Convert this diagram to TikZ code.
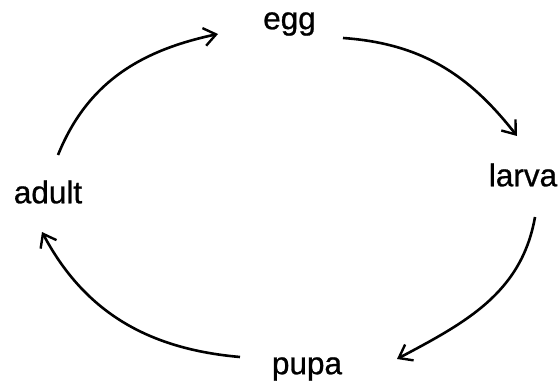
\documentclass[tikz,border=0pt]{standalone}
\usepackage{fontspec}
\setmainfont{Liberation Sans}
\newfontfamily\stagefont[FakeBold=0.8]{Liberation Sans}
\usetikzlibrary{arrows.meta}
\begin{document}
\begin{tikzpicture}
[
    x=1pt, y=-1pt,
    stage/.style={font=\stagefont\fontsize{31.5}{36}\selectfont, inner sep=0pt},
    cyc/.style={line width=2.6pt, -{Straight Barb[length=12pt, width=18pt, line width=2.4pt]}}
]
    \useasboundingbox (0,0) rectangle (560,385);

    \node [stage] (egg) at (289.5,24) {egg};
    \node [stage] (larva) at (523,175) {larva};
    \node [stage] (pupa) at (307,369) {pupa};
    \node [stage] (adult) at (48,192) {adult};

    \coordinate (a1) at (58,155);
    \coordinate (e0) at (218,34);
    \coordinate (e1) at (343,38);
    \coordinate (l0) at (517,136);
    \coordinate (l1) at (535,217);
    \coordinate (p0) at (397,359);
    \coordinate (p1) at (240,357);
    \coordinate (a0) at (42,232);

    \draw [cyc] (a1) to[out=68, in=192] (e0);
    \draw [cyc] (e1) to[out=-4, in=128] (l0);
    \draw [cyc] (l1) to[out=-100, in=28] (p0);
    \draw [cyc] (p1) to[out=175, in=-62] (a0);
\end{tikzpicture}
\end{document}
